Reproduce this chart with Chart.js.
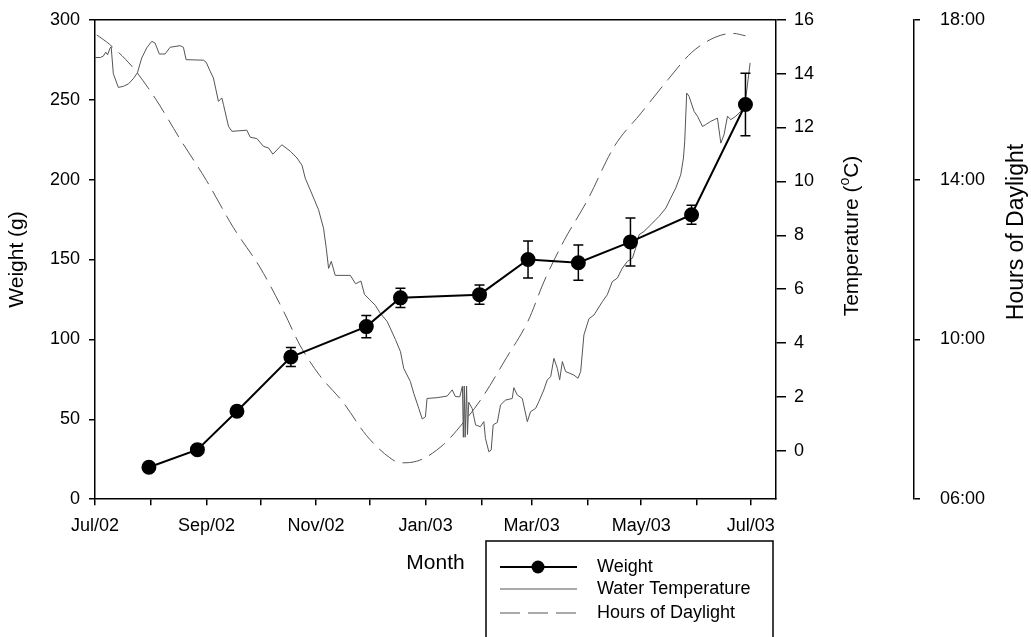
<!DOCTYPE html>
<html lang="en">
<head>
<meta charset="UTF-8" />
<title>Weight, water temperature and daylight</title>
<script src="https://cdn.jsdelivr.net/npm/chart.js@4.4.0/dist/chart.umd.min.js"></script>
<style>
  body { margin: 0; background: #fff; }
  #wrap { width: 1031px; height: 637px; }
</style>
</head>
<body>
<div id="wrap"><canvas id="myChart" width="1031" height="637"></canvas></div>
<script>
// all x values are days counted from 1 Jul 2002
var monthTicks = [0, 31, 62, 92, 123, 153, 184, 215, 243, 274, 304, 335, 365];
var monthLabels = ["Jul/02", "", "Sep/02", "", "Nov/02", "", "Jan/03", "", "Mar/03", "", "May/03", "", "Jul/03"];

var weightDays = [30, 57, 79, 109, 151, 170, 214, 241, 269, 298, 332, 362];
var weightValues = [20, 31, 55, 89, 108, 126, 128, 150, 148, 161, 178, 247];
var weightErr = [0, 1, 3, 6, 7, 6, 6, 11.5, 11, 15, 6, 19.5];

var tempDays = [0, 3, 4.6, 6, 7, 8.4, 9, 10.2, 12.1, 13, 15.8, 18.6, 21.4, 23.6, 26, 28.8, 31.6, 33.4,
  35.8, 39, 41.8, 47.4, 49.2, 50.7, 60.4, 61.9, 64.1, 65.9, 68.7, 70.6, 71.5, 74.3, 76.2, 84.5, 86.4,
  90.1, 93.8, 96.6, 99, 104, 108.7, 112.4, 115.2, 117, 121.7, 124.4, 127.2, 128.7, 130, 131.5, 133.7,
  142.1, 145, 148, 150, 153, 156, 158.8, 162.6, 167.2, 170, 171.8, 175.5, 177.4, 180.2, 182.1, 183.9,
  184.8, 190.4, 196, 198.8, 200.6, 203, 204.5, 205, 205.5, 206, 206.8, 207.3, 208, 209.9, 211.8, 214.5,
  216.4, 217.3, 219.2, 220.5, 221.6, 223.9, 225.7, 228.5, 232.2, 233.1, 235, 237.8, 240.6, 242.4, 245.2,
  247, 249.8, 251.7, 253.6, 255.4, 257.3, 258.6, 260.1, 261.9, 266.5, 268.8, 270.3, 272.1, 274.9, 277.7,
  282.4, 285.1, 287.9, 290.7, 293.5, 296.3, 299.1, 300.9, 302.8, 305.5, 309.3, 313.9, 317.7, 320.4,
  323.2, 326, 327.5, 328.2, 329.3, 330.6, 333.4, 335.3, 338.1, 339.9, 342.7, 344.6, 346.4, 348.3, 350.1,
  352, 353.8, 356.6, 359.4, 362.2, 364.6];
var tempValues = [14.6, 14.6, 14.65, 14.8, 14.7, 14.95, 15.0, 14.0, 13.65, 13.49, 13.53, 13.62, 13.82, 14.03, 14.58, 14.96, 15.2, 15.14,
  14.73, 14.73, 14.98, 15.04, 14.98, 14.52, 14.5, 14.42, 14.09, 13.84, 12.97, 13.1, 12.85, 12.04, 11.86, 11.9, 11.64,
  11.59, 11.3, 11.24, 11.01, 11.36, 11.12, 10.87, 10.6, 10.12, 9.38, 8.95, 8.26, 7.52, 6.77, 7.03, 6.51,
  6.51, 6.2, 6.3, 5.8, 5.6, 5.4, 5.1, 4.8, 4.13, 3.68, 3.06, 2.57, 2.13, 1.57, 1.18, 1.26,
  1.94, 1.97, 2.03, 2.26, 2.01, 2.0, 2.4, 0.5, 2.4, 0.5, 2.4, 0.6, 1.8, 1.57, 0.96, 0.89,
  1.08, 0.46, -0.04, 0.03, 0.96, 1.05, 1.7, 1.88, 1.94, 2.34, 2.07, 1.94, 1.08, 1.45, 1.57,
  1.82, 2.26, 2.63, 2.75, 3.43, 3.06, 2.63, 3.31, 2.94, 2.81, 2.69, 2.94, 4.3, 4.9, 5.04,
  5.54, 5.79, 6.28, 6.41, 6.78, 7.03, 7.15, 7.52, 8.02, 8.14, 8.39, 8.7, 9.01, 9.38,
  9.75, 10.25, 10.87, 11.49, 13.28, 13.16, 12.6, 12.42, 12.04, 12.11, 12.23, 12.29, 12.35, 11.42, 11.74,
  12.42, 12.29, 12.42, 12.6, 13.1, 14.4];

var daylightDays = [1, 8, 21, 34, 47, 62, 77, 92, 105, 114, 125, 138, 151, 164, 170, 179, 194, 205,
  215, 229, 241, 250, 261, 274, 289, 304, 319, 332, 345, 355, 362];
var daylightHours = [17.62, 17.39, 16.81, 16.0, 15.04, 13.98, 12.8, 11.79, 10.7, 9.86, 9.1, 8.43, 7.6, 7.04, 6.91, 6.95, 7.37, 7.92,
  8.51, 9.54, 10.46, 11.46, 12.47, 13.48, 14.83, 15.67, 16.51, 17.18, 17.56, 17.66, 17.6];

var tempTicks = [0, 2, 4, 6, 8, 10, 12, 14, 16];
var daylightTicks = [6, 10, 14, 18];
var daylightLabels = ["06:00", "10:00", "14:00", "18:00"];

Chart.defaults.font.family = "'Liberation Sans', Arial, sans-serif";
Chart.defaults.color = "#000";

function pairs(xs, ys) {
  return xs.map(function (x, i) { return { x: x, y: ys[i] }; });
}

// keep the wide tick padding of the right axes from pushing the plot down
function fitRight(width) {
  return function (s) {
    s.width = width;
    s.paddingTop = 11;
    s.paddingBottom = 11;
  };
}

// error bars on the weight points
var errorBars = {
  id: "errorBars",
  afterDatasetsDraw: function (chart) {
    var ctx = chart.ctx, x = chart.scales.x, y = chart.scales.y;
    ctx.save();
    ctx.strokeStyle = "#000";
    ctx.lineWidth = 1.5;
    for (var i = 0; i < weightDays.length; i++) {
      if (!weightErr[i]) continue;
      var px = x.getPixelForValue(weightDays[i]);
      var top = y.getPixelForValue(weightValues[i] + weightErr[i]);
      var bot = y.getPixelForValue(weightValues[i] - weightErr[i]);
      ctx.beginPath();
      ctx.moveTo(px, top); ctx.lineTo(px, bot);
      ctx.moveTo(px - 5, top); ctx.lineTo(px + 5, top);
      ctx.moveTo(px - 5, bot); ctx.lineTo(px + 5, bot);
      ctx.stroke();
    }
    ctx.restore();
  }
};

// top edge of the plot box + titles of the right axes (read bottom to top)
var frameAndTitles = {
  id: "frameAndTitles",
  afterDraw: function (chart) {
    var ctx = chart.ctx, a = chart.chartArea;
    ctx.save();
    ctx.strokeStyle = "#000";
    ctx.lineWidth = 1.5;
    ctx.beginPath();
    ctx.moveTo(a.left, a.top);
    ctx.lineTo(a.right, a.top);
    ctx.stroke();

    var fam = Chart.defaults.font.family;
    ctx.fillStyle = "#000";
    ctx.textBaseline = "middle";

    // Temperature (oC) with superscript o
    var parts = [["Temperature (", "21px " + fam, 0], ["o", "14px " + fam, -7], ["C)", "21px " + fam, 0]];
    var total = 0;
    parts.forEach(function (p) { ctx.font = p[1]; total += ctx.measureText(p[0]).width; });
    ctx.save();
    ctx.translate(chart.scales.yTemp.left + 76, 236);
    ctx.rotate(-Math.PI / 2);
    var px = -total / 2;
    parts.forEach(function (p) {
      ctx.font = p[1];
      ctx.textAlign = "left";
      ctx.fillText(p[0], px, p[2]);
      px += ctx.measureText(p[0]).width;
    });
    ctx.restore();

    ctx.save();
    ctx.translate(chart.scales.yDay.left + 103, 232);
    ctx.rotate(-Math.PI / 2);
    ctx.font = "23px " + fam;
    ctx.textAlign = "center";
    ctx.fillText("Hours of Daylight", 0, 0);
    ctx.restore();
    ctx.restore();
  }
};

// boxed legend below the plot
var legendBox = {
  id: "legendBox",
  afterDraw: function (chart) {
    var ctx = chart.ctx, ds = chart.data.datasets;
    var left = 486, top = 541, right = 773;
    ctx.save();
    ctx.strokeStyle = "#000";
    ctx.lineWidth = 1.5;
    ctx.strokeRect(left, top, right - left, 120);
    var rows = [567, 589, 613];
    ctx.font = "18px " + Chart.defaults.font.family;
    ctx.textBaseline = "middle";
    ctx.fillStyle = "#000";
    for (var i = 0; i < ds.length; i++) {
      var yy = rows[i];
      ctx.strokeStyle = ds[i].borderColor;
      ctx.lineWidth = ds[i].borderWidth;
      ctx.setLineDash(ds[i].borderDash || []);
      ctx.beginPath();
      ctx.moveTo(500, yy);
      ctx.lineTo(577, yy);
      ctx.stroke();
      ctx.setLineDash([]);
      if (ds[i].pointRadius) {
        ctx.beginPath();
        ctx.arc(538, yy, ds[i].pointRadius, 0, Math.PI * 2);
        ctx.fillStyle = ds[i].pointBackgroundColor;
        ctx.fill();
      }
      ctx.fillStyle = "#000";
      ctx.fillText(ds[i].label, 597, yy);
    }
    ctx.restore();
  }
};

var axisGrid = { drawOnChartArea: false, color: "#000", lineWidth: 1.5 };

var c = new Chart("myChart", {
  type: "line",
  data: {
    datasets: [
      {
        label: "Weight",
        data: pairs(weightDays, weightValues),
        yAxisID: "y",
        borderColor: "#000",
        borderWidth: 2,
        pointRadius: 6.5,
        pointBackgroundColor: "#000",
        pointBorderColor: "#000",
        tension: 0
      },
      {
        label: "Water Temperature",
        data: pairs(tempDays, tempValues),
        yAxisID: "yTemp",
        borderColor: "#555",
        borderWidth: 1,
        pointRadius: 0,
        tension: 0
      },
      {
        label: "Hours of Daylight",
        data: pairs(daylightDays, daylightHours),
        yAxisID: "yDay",
        borderColor: "#555",
        borderWidth: 1,
        borderDash: [20, 8],
        pointRadius: 0,
        cubicInterpolationMode: "monotone"
      }
    ]
  },
  options: {
    responsive: false,
    animation: false,
    events: [],
    layout: { padding: { top: 18, bottom: 61, left: 0, right: 0 } },
    plugins: { legend: { display: false }, tooltip: { enabled: false } },
    scales: {
      x: {
        type: "linear",
        min: 0,
        max: 379,
        afterBuildTicks: function (axis) {
          axis.ticks = monthTicks.map(function (v) { return { value: v }; });
        },
        ticks: {
          autoSkip: false,
          maxRotation: 0,
          padding: 10,
          font: { size: 18 },
          callback: function (v, i) { return monthLabels[i]; }
        },
        grid: Object.assign({ tickLength: 6 }, axisGrid),
        border: { color: "#000", width: 1.5 },
        title: { display: true, text: "Month", font: { size: 21 }, padding: { top: 4, bottom: 0 } }
      },
      y: {
        position: "left",
        min: 0,
        max: 300,
        ticks: { stepSize: 50, padding: 9, font: { size: 18 } },
        grid: Object.assign({ tickLength: 6 }, axisGrid),
        border: { color: "#000", width: 1.5 },
        title: { display: true, text: "Weight (g)", font: { size: 21 }, padding: { top: 5, bottom: 0 } },
        afterFit: function (s) { s.width = 95; }
      },
      yTemp: {
        position: "right",
        weight: 0,
        min: -1.8,
        max: 16,
        afterBuildTicks: function (axis) {
          axis.ticks = tempTicks.map(function (v) { return { value: v }; });
        },
        ticks: { padding: 8, font: { size: 18 } },
        grid: Object.assign({ tickLength: 10 }, axisGrid),
        border: { color: "#000", width: 1.5 },
        afterFit: fitRight(138)
      },
      yDay: {
        position: "right",
        weight: 1,
        min: 6,
        max: 18,
        afterBuildTicks: function (axis) {
          axis.ticks = daylightTicks.map(function (v) { return { value: v }; });
        },
        ticks: {
          padding: 20,
          font: { size: 18 },
          callback: function (v, i) { return daylightLabels[i]; }
        },
        grid: Object.assign({ tickLength: 6 }, axisGrid),
        border: { color: "#000", width: 1.5 },
        afterFit: fitRight(117)
      }
    }
  },
  plugins: [errorBars, frameAndTitles, legendBox]
});
</script>
</body>
</html>
